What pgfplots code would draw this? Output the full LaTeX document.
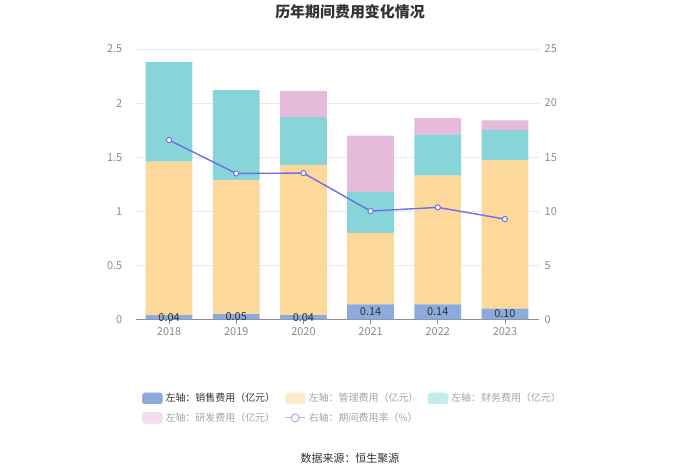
\documentclass[border=0pt]{standalone}
\usepackage{pgfplots}
\pgfplotsset{compat=1.18}
\usepackage{fontspec}
\setmainfont{Noto Sans CJK SC}
\definecolor{sales}{HTML}{8DAADD}
\definecolor{mgmt}{HTML}{FDD89B}
\definecolor{fin}{HTML}{87D5D8}
\definecolor{rd}{HTML}{E6BADB}
\definecolor{ratec}{HTML}{6C6FE6}
\definecolor{mgmtL}{HTML}{FDEBCB}
\definecolor{finL}{HTML}{C3ECEE}
\definecolor{rdL}{HTML}{F4DDEE}
\definecolor{rateL}{HTML}{B3B4F2}
\definecolor{tickgray}{HTML}{8C8C8C}
\definecolor{gridc}{HTML}{E8EAEF}
\definecolor{axisc}{HTML}{8A8D94}
\definecolor{titlec}{HTML}{333333}
\definecolor{legdark}{HTML}{333333}
\definecolor{leglight}{HTML}{A3A3A3}

\begin{document}
\begin{tikzpicture}[x=1bp,y=1bp]
\path[use as bounding box] (0,0) rectangle (700,474);
\node[font=\bfseries\fontsize{15}{18}\selectfont, text=titlec] at (350,462) {历年期间费用变化情况};
\node[font=\fontsize{11}{13}\selectfont, text=legdark] at (350,16) {数据来源：恒生聚源};
\begin{axis}[
  at={(135.5bp,154.5bp)}, anchor=south west,
  scale only axis, width=403bp, height=270.5bp,
  ybar stacked, bar width=46.7bp,
  xmin=-0.5, xmax=5.5, ymin=0, ymax=2.5,
  xtick={0,1,2,3,4,5}, xticklabels={2018,2019,2020,2021,2022,2023},
  ytick={0,0.5,1,1.5,2,2.5},
  axis x line*=bottom, axis y line*=left,
  x axis line style={draw=axisc, line width=0.8bp},
  y axis line style={draw=none},
  ymajorgrids, grid style={draw=gridc, line width=0.8bp},
  tick align=outside, major tick length=5bp,
  xtick style={draw=axisc, line width=0.8bp},
  ytick style={draw=none},
  /pgf/number format/assume math mode=true,
  xticklabel style={font=\fontsize{11}{13}\selectfont, text=tickgray, inner sep=0pt, yshift=-3bp},
  yticklabel style={font=\fontsize{11}{13}\selectfont, text=tickgray, anchor=east, inner sep=0pt, xshift=-8bp},
  legend columns=3,
  legend cell align=left,
  legend style={at={(axis description cs:0.016,-0.27)}, anchor=north west, draw=none, fill=none,
    inner sep=0pt, row sep=8bp, column sep=3bp,
    /tikz/every even column/.append style={column sep=14bp},
    nodes={inner sep=0pt, font=\fontsize{10}{12}\selectfont}},
]
\addplot[fill=sales, draw=none, forget plot] coordinates {(0,0.04) (1,0.05) (2,0.04) (3,0.14) (4,0.14) (5,0.10)};
\addplot[fill=mgmt, draw=none, forget plot] coordinates {(0,1.42) (1,1.24) (2,1.39) (3,0.66) (4,1.19) (5,1.37)};
\addplot[fill=fin, draw=none, forget plot] coordinates {(0,0.92) (1,0.83) (2,0.44) (3,0.38) (4,0.38) (5,0.28)};
\addplot[fill=rd, draw=none, forget plot] coordinates {(0,0) (1,0) (2,0.24) (3,0.52) (4,0.15) (5,0.09)};
\addlegendimage{legend image code/.code={\fill[sales, rounded corners=2.5bp] (0bp,-5.5bp) rectangle (20bp,5.5bp);}}
\addlegendentry{\makebox[105bp][l]{\textcolor{legdark}{左轴：销售费用（亿元）}}}
\addlegendimage{legend image code/.code={\fill[mgmtL, rounded corners=2.5bp] (0bp,-5.5bp) rectangle (20bp,5.5bp);}}
\addlegendentry{\makebox[105bp][l]{\textcolor{leglight}{左轴：管理费用（亿元）}}}
\addlegendimage{legend image code/.code={\fill[finL, rounded corners=2.5bp] (0bp,-5.5bp) rectangle (20bp,5.5bp);}}
\addlegendentry{\makebox[105bp][l]{\textcolor{leglight}{左轴：财务费用（亿元）}}}
\addlegendimage{legend image code/.code={\fill[rdL, rounded corners=2.5bp] (0bp,-5.5bp) rectangle (20bp,5.5bp);}}
\addlegendentry{\makebox[105bp][l]{\textcolor{leglight}{左轴：研发费用（亿元）}}}
\addlegendimage{legend image code/.code={\draw[rateL, line width=1.3bp] (0bp,0bp) -- (20bp,0bp); \draw[rateL, line width=1.2bp, fill=white] (10bp,0bp) circle (4bp);}}
\addlegendentry{\makebox[105bp][l]{\textcolor{leglight}{右轴：期间费用率（\%）}}}
\end{axis}
\begin{axis}[
  at={(135.5bp,154.5bp)}, anchor=south west,
  scale only axis, width=403bp, height=270.5bp,
  xmin=-0.5, xmax=5.5, ymin=0, ymax=25,
  axis x line=none, axis y line*=right,
  y axis line style={draw=none},
  ytick={0,5,10,15,20,25}, ytick style={draw=none},
  /pgf/number format/assume math mode=true,
  yticklabel style={font=\fontsize{11}{13}\selectfont, text=tickgray, anchor=west, inner sep=0pt, xshift=6bp},
]
\addplot[ratec, line width=1.4bp, mark=*, mark size=2.6bp, mark options={fill=white, draw=ratec, line width=1bp}] coordinates {(0,16.58) (1,13.50) (2,13.53) (3,10.02) (4,10.36) (5,9.28)};
\addplot[draw=none, mark=none, nodes near coords, point meta=explicit symbolic,
  nodes near coords style={anchor=center, font=\fontsize{11}{13}\selectfont, text=legdark, inner sep=0pt}]
  table[meta=lab] {
x y lab
0 0.20 0.04
1 0.25 0.05
2 0.20 0.04
3 0.70 0.14
4 0.70 0.14
5 0.50 0.10
};
\end{axis}
\end{tikzpicture}
\end{document}
